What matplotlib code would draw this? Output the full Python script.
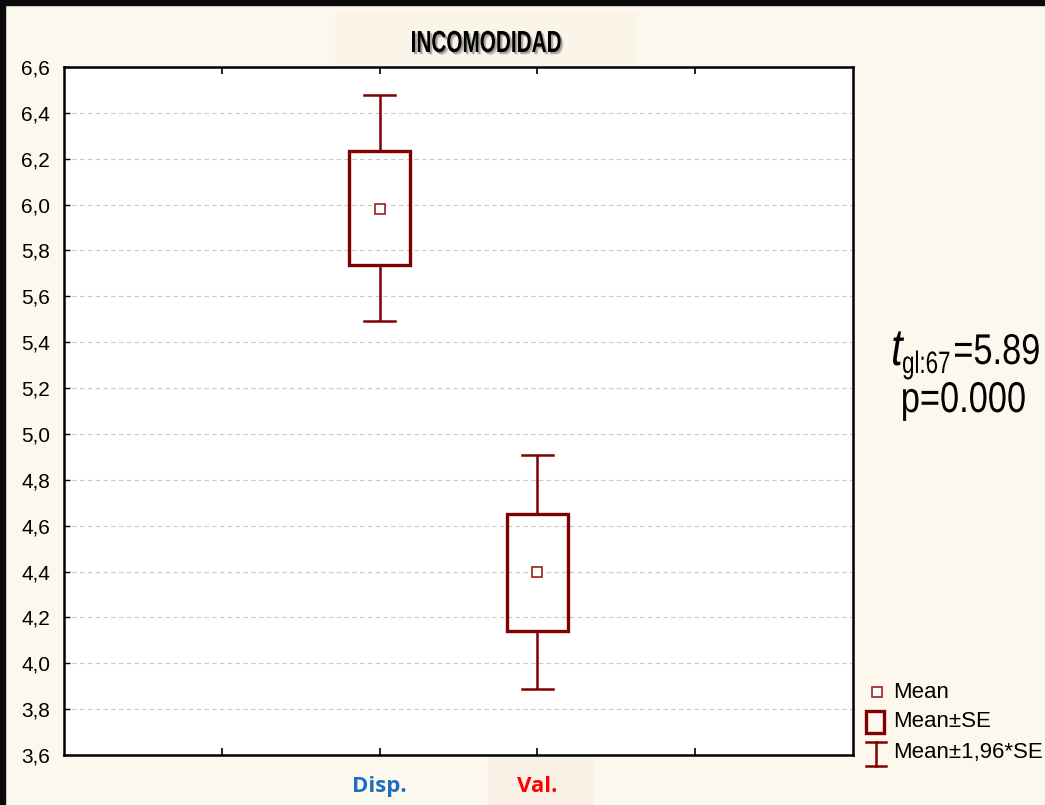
import matplotlib
matplotlib.use("Agg")
import matplotlib.pyplot as plt
from matplotlib.patches import Rectangle, PathPatch
from matplotlib.lines import Line2D
from matplotlib.textpath import TextPath
from matplotlib.font_manager import FontProperties
from matplotlib.transforms import Affine2D

# ---- data ----
categories = ["Disp.", "Val."]
cat_colors = ["#1a6fbf", "#ff0000"]
positions = [2, 3]
means = [5.98, 4.40]
se_low = [5.735, 4.142]
se_high = [6.232, 4.652]
ci_low = [5.492, 3.888]
ci_high = [6.478, 4.908]
yticks = [3.6, 3.8, 4.0, 4.2, 4.4, 4.6, 4.8, 5.0, 5.2, 5.4, 5.6, 5.8, 6.0, 6.2, 6.4, 6.6]
ytick_labels = [f"{v:.1f}".replace(".", ",") for v in yticks]
title = "INCOMODIDAD"
stat_t = "t"
stat_sub = "gl:67"
stat_val = "=5.89"
stat_p = "p=0.000"
legend_labels = ["Mean", "Mean\u00b1SE", "Mean\u00b11,96*SE"]

plt.rcParams['font.family'] = ['Liberation Sans', 'DejaVu Sans']

BG = "#fdf8ee"
DARK = "#7f0000"

fig = plt.figure(figsize=(10.45, 8.05), dpi=100, facecolor=BG)
W, H = 1045, 805

def fx(px):
    return px / W

def fy(py):
    return 1 - py / H

def path_text(s, left_px, base_px, em_px, sx=1.0, sy=1.0, weight='normal', style='normal',
              color='black', shadow=False):
    fp = FontProperties(family='Liberation Sans', weight=weight, style=style)
    tp = TextPath((0, 0), s, size=em_px, prop=fp)
    x0 = tp.get_extents().x0
    if shadow:
        for dx, dy, a in [(2.0, -2.0, 0.3), (2.8, -2.8, 0.15), (1.4, -1.4, 0.2)]:
            tr = Affine2D().translate(-x0, 0).scale(sx, sy).translate(left_px + dx, H - base_px + dy)
            fig.add_artist(PathPatch(tp, transform=tr, facecolor='#555555', edgecolor='none',
                                     alpha=a, zorder=5))
    tr = Affine2D().translate(-x0, 0).scale(sx, sy).translate(left_px, H - base_px)
    fig.add_artist(PathPatch(tp, transform=tr, facecolor=color, edgecolor='none', zorder=6))

# black frame strips (top and left)
fig.patches.append(Rectangle((0, fy(5)), 1, 5 / H, transform=fig.transFigure, color="#0a0a0a", zorder=-1))
fig.patches.append(Rectangle((0, 0), 5 / W, 1, transform=fig.transFigure, color="#0a0a0a", zorder=-1))
# title background and Val label background
fig.patches.append(Rectangle((fx(335), fy(66)), fx(637) - fx(335), (66 - 12) / H,
                             transform=fig.transFigure, color="#fbf4e9", zorder=-1))
fig.patches.append(Rectangle((fx(488), 0), fx(593) - fx(488), (805 - 757) / H,
                             transform=fig.transFigure, color="#f9f1e6", zorder=-1))

ax = fig.add_axes([fx(64), fy(755), fx(853) - fx(64), (755 - 67) / H])
ax.set_facecolor("white")
ax.set_xlim(0, 5)
ax.set_ylim(3.6, 6.6)

box_w = 0.39
cap_w = 0.2
for i, x in enumerate(positions):
    ax.plot([x, x], [se_high[i], ci_high[i]], color=DARK, lw=1.8, zorder=3, solid_capstyle='butt')
    ax.plot([x, x], [ci_low[i], se_low[i]], color=DARK, lw=1.8, zorder=3, solid_capstyle='butt')
    ax.plot([x - cap_w / 2, x + cap_w / 2], [ci_high[i]] * 2, color=DARK, lw=1.8, zorder=3)
    ax.plot([x - cap_w / 2, x + cap_w / 2], [ci_low[i]] * 2, color=DARK, lw=1.8, zorder=3)
    ax.add_patch(Rectangle((x - box_w / 2, se_low[i]), box_w, se_high[i] - se_low[i],
                           fill=False, edgecolor=DARK, lw=2.4, zorder=4))
    ax.plot([x], [means[i]], marker='s', ms=7, mfc='white', mec="#a02020", mew=1.2, zorder=5)

ax.set_yticks(yticks)
ax.set_yticklabels(ytick_labels, fontsize=15)
ax.yaxis.grid(True, linestyle=(0, (4, 3)), color="#c8c8c8", lw=0.8)
ax.set_axisbelow(True)
ax.set_xticks([1, 2, 3, 4])
ax.set_xticklabels(["", categories[0], categories[1], ""])
ax.tick_params(axis='y', direction='in', length=4, width=1, left=True, right=False, pad=10, colors='black')
ax.tick_params(axis='x', direction='in', length=5, width=1.2, top=True, bottom=True, pad=15)
for i, lbl in enumerate(ax.get_xticklabels()[1:3]):
    lbl.set_color(cat_colors[i])
    lbl.set_fontfamily(['Open Sans', 'DejaVu Sans'])
    lbl.set_fontweight('bold')
    lbl.set_fontsize(16)
for s in ax.spines.values():
    s.set_linewidth(1.8)
    s.set_color('black')

# title (condensed bold with shadow)
path_text(title, 412, 52, 30.5, sx=0.68, weight='bold', shadow=True)

# statistic text (tall, narrow)
path_text(stat_t, 893, 365, 52, sx=0.8, style='italic')
path_text(stat_sub, 903, 373, 31, sx=0.72)
path_text(stat_val, 955, 364, 43, sx=0.8)
path_text(stat_p, 903, 412, 43, sx=0.8)

# legend (manual)
fig.add_artist(Line2D([fx(877)], [fy(692)], marker='s', ms=7, mfc='white', mec="#a02020", mew=1.2,
                      transform=fig.transFigure))
fig.text(fx(893), fy(692), legend_labels[0], ha='left', va='center', fontsize=16)
fig.patches.append(Rectangle((fx(866), fy(733)), fx(884) - fx(866), (733 - 711) / H, fill=False,
                             edgecolor=DARK, lw=2.4, transform=fig.transFigure))
fig.text(fx(893), fy(721), legend_labels[1], ha='left', va='center', fontsize=16)
fig.add_artist(Line2D([fx(876), fx(876)], [fy(742), fy(766)], color=DARK, lw=1.8, transform=fig.transFigure))
fig.add_artist(Line2D([fx(866), fx(886)], [fy(742), fy(742)], color=DARK, lw=1.8, transform=fig.transFigure))
fig.add_artist(Line2D([fx(866), fx(886)], [fy(766), fy(766)], color=DARK, lw=1.8, transform=fig.transFigure))
fig.text(fx(893), fy(752), legend_labels[2], ha='left', va='center', fontsize=16)

fig.savefig("out.png", dpi=100, facecolor=BG)
